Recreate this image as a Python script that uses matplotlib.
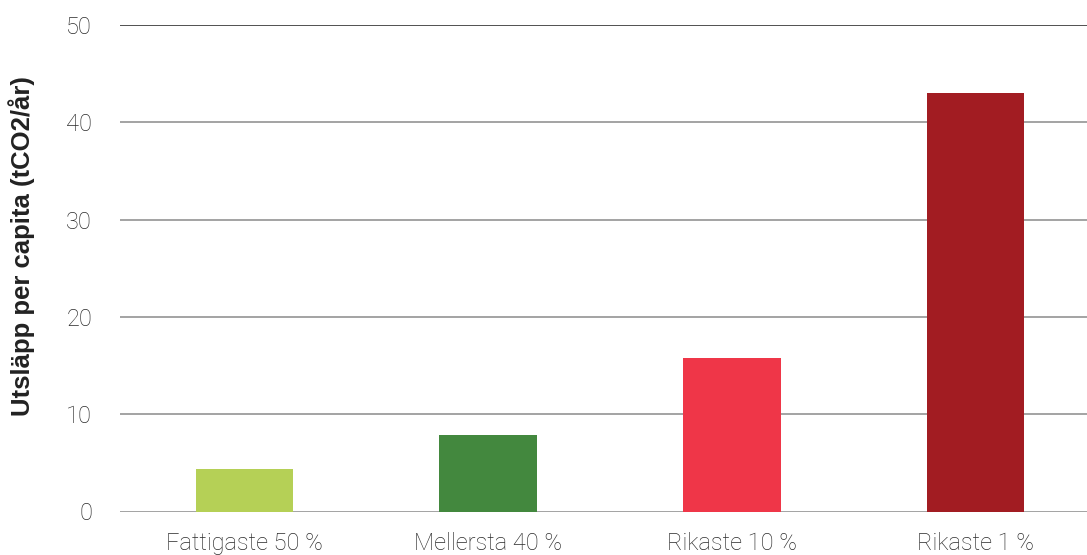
import matplotlib.pyplot as plt

# emission per capita by income group
groups = ['Fattigaste 50 %', 'Mellersta 40 %', 'Rikaste 10 %', 'Rikaste 1 %']
emissions = [4.4, 7.9, 15.8, 43.0]
colors = ['#b5d056', '#43883e', '#ef3648', '#a21c22']
yticks = [0, 10, 20, 30, 40, 50]

fig = plt.figure(figsize=(10.87, 5.55), dpi=100)
ax = fig.add_axes([120 / 1087, 43.5 / 555, 967 / 1087, 486.5 / 555])

ax.bar(range(len(groups)), emissions, width=0.4, color=colors, zorder=3)
    # the bars, drawn above the grid lines

ax.set_xlim(-0.511, len(groups) - 0.5425)
ax.set_ylim(0, 50)
ax.set_yticks(yticks)
ax.set_xticks(range(len(groups)))
ax.set_xticklabels(groups)

for y in yticks:
    ax.axhline(y, color='#222222' if y == 50 else '#8a8a8a', linewidth=1.1, zorder=1)
    # horizontal grid, the top line is darker

for s in ax.spines.values():
    s.set_visible(False)
ax.tick_params(length=0, labelsize=17, labelcolor='#2a2a2a')
ax.tick_params(axis='y', pad=20)
ax.tick_params(axis='x', pad=14.5)
for lab in ax.get_xticklabels() + ax.get_yticklabels():
    lab.set_family('Roboto')
    lab.set_fontweight('light')

ax.set_ylabel('Utsläpp per capita (tCO2/år)', fontsize=18.5, fontweight='bold',
              family='Liberation Sans', color='#222222')
ax.yaxis.set_label_coords(-0.088, 0.546)
    # the label sits a bit above the middle of the axis

fig.savefig('out.png', dpi=100)
